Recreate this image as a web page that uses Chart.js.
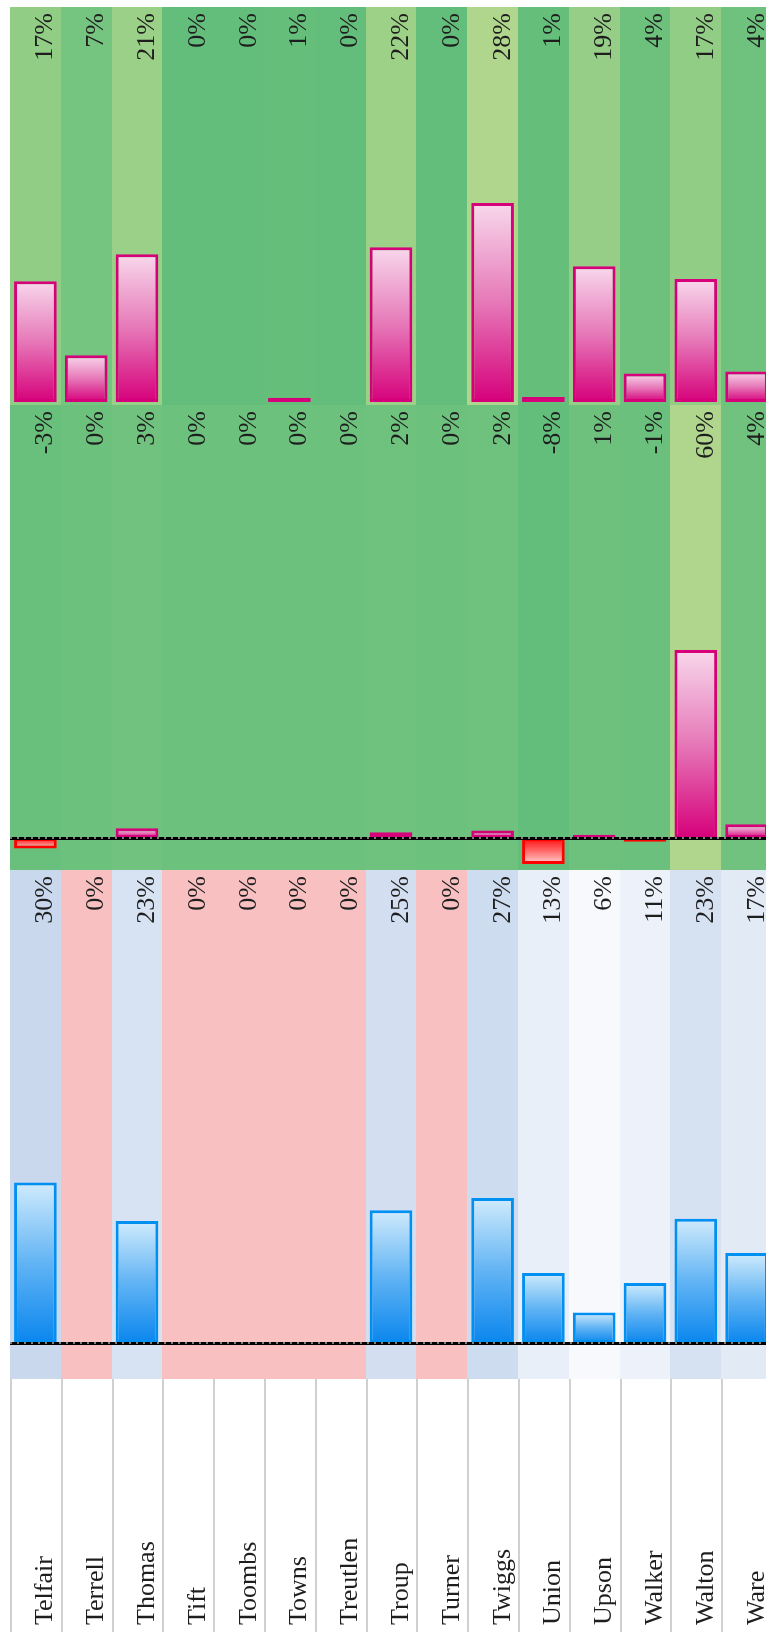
<!DOCTYPE html>
<html>
<head>
<meta charset="utf-8">
<script src="https://cdn.jsdelivr.net/npm/chart.js@4.4.1/dist/chart.umd.min.js"></script>
<style>
html,body{margin:0;padding:0;background:#fff;overflow:hidden;width:766px;height:1632px;}
#wrap{position:absolute;left:0;top:0;width:780px;height:1632px;}
</style>
</head>
<body>
<div id="wrap"><canvas id="c"></canvas></div>
<script>
// ---- data ----
const counties = ['Telfair','Terrell','Thomas','Tift','Toombs','Towns','Treutlen','Troup','Turner','Twiggs','Union','Upson','Walker','Walton','Ware'];
const topValues    = [17.0, 6.6, 20.8, 0, 0, 0.6, 0, 21.8, 0, 28.0, 0.7, 19.1, 4.0, 17.3, 4.3];
const middleValues = [-3.4, 0, 3.1, 0, 0, 0, 0, 1.8, 0, 2.4, -8.3, 1.0, -1.2, 60.0, 4.4];
const bottomValues = [30.0, 0, 22.8, 0, 0, 0, 0, 24.8, 0, 27.1, 13.1, 5.7, 11.2, 23.2, 16.8];
const topRange    = [-0.42, 55.6];
const middleRange = [-10.24, 138.2];
const bottomRange = [-6.73, 88.4];

// ---- styles ----
const FONT = "'Liberation Serif', 'Times New Roman', serif";
function mix(a, b, t) {
  t = Math.max(0, Math.min(1, t));
  return 'rgb(' + a.map((c, i) => Math.round(c + (b[i] - c) * t)).join(',') + ')';
}
const GREEN = [99,190,123], GREEN_HI = [175,214,140];
function greenCells(vals) {
  const lo = Math.min(...vals), hi = Math.max(...vals);
  return vals.map(v => mix(GREEN, GREEN_HI, (v - lo) / (hi - lo)));
}
const WHITE = [252,252,255], BLUE = [90,138,198], PINK_CELL = 'rgb(248,192,193)';
function blueCells(vals) {
  return vals.map(v => v <= 0 ? PINK_CELL : mix(WHITE, BLUE, (v - 3.14) / 85.3));
}
const PINK_STOPS = ['#d6007a', '#e678b8', '#f8d8ec'];
const BLUE_STOPS = ['#0a86ee', '#62b4f4', '#d0ebfc'];
const RED_STOPS  = ['#ff0a0a', '#ff6a6a', '#ffd0d0'];

function barGradient(context, stops) {
  if (context.type !== 'data') return stops[1];
  const chart = context.chart;
  const ys = chart.scales[context.dataset.yAxisID];
  if (!ys || ys.top === undefined) return stops[1];
  const base = ys.getPixelForValue(0);
  const tip = ys.getPixelForValue(context.raw);
  if (!isFinite(base) || !isFinite(tip) || Math.abs(base - tip) < 0.5) return stops[0];
  const g = chart.ctx.createLinearGradient(0, base, 0, tip);
  g.addColorStop(0, stops[0]);
  g.addColorStop(0.5, stops[1]);
  g.addColorStop(1, stops[2]);
  return g;
}

const panels = [
  { axis: 'yTop', values: topValues, cells: greenCells(topValues), baseline: false },
  { axis: 'yMid', values: middleValues, cells: greenCells(middleValues), baseline: true },
  { axis: 'yBot', values: bottomValues, cells: blueCells(bottomValues), baseline: true }
];

const panelPlugin = {
  id: 'panels',
  beforeDatasetsDraw(chart) {
    const ctx = chart.ctx, xs = chart.scales.x;
    const colW = (xs.right - xs.left) / counties.length;
    ctx.save();
    panels.forEach(p => {
      const ys = chart.scales[p.axis];
      const y0 = Math.round(ys.top), y1 = Math.round(ys.bottom);
      p.cells.forEach((c, i) => {
        const cx = xs.getPixelForValue(i);
        const x0 = Math.round(cx - colW / 2), x1 = Math.round(cx + colW / 2);
        ctx.fillStyle = c;
        ctx.fillRect(x0, y0, x1 - x0, y1 - y0);
      });
    });
    // separators in label area
    ctx.strokeStyle = '#d0d0d0';
    ctx.lineWidth = 2;
    for (let i = 0; i <= counties.length; i++) {
      const x = Math.round(xs.left + i * colW) + 1;
      ctx.beginPath();
      ctx.moveTo(x, chart.chartArea.bottom);
      ctx.lineTo(x, chart.height);
      ctx.stroke();
    }
    ctx.restore();
  },
  afterDatasetsDraw(chart) {
    const ctx = chart.ctx, xs = chart.scales.x;
    ctx.save();
    // dashed zero lines
    panels.forEach(p => {
      if (!p.baseline) return;
      const ys = chart.scales[p.axis];
      const y = Math.round(ys.getPixelForValue(0)) + 0.5;
      ctx.setLineDash([]);
      ctx.strokeStyle = '#000';
      ctx.lineWidth = 3;
      ctx.beginPath(); ctx.moveTo(xs.left, y); ctx.lineTo(xs.right, y); ctx.stroke();
      ctx.setLineDash([2, 5]);
      ctx.strokeStyle = '#fff';
      ctx.lineWidth = 1;
      ctx.beginPath(); ctx.moveTo(xs.left, y - 0.5); ctx.lineTo(xs.right, y - 0.5); ctx.stroke();
    });
    ctx.setLineDash([]);
    // value labels
    ctx.fillStyle = '#1e1e1e';
    ctx.font = '26px ' + FONT;
    ctx.textBaseline = 'alphabetic';
    panels.forEach(p => {
      const ys = chart.scales[p.axis];
      p.values.forEach((v, i) => {
        const cx = xs.getPixelForValue(i);
        ctx.save();
        ctx.translate(cx + 17, ys.top + 6);
        ctx.rotate(-Math.PI / 2);
        ctx.textAlign = 'right';
        ctx.fillText(Math.round(v) + '%', 0, 0);
        ctx.restore();
      });
    });
    // category labels
    counties.forEach((name, i) => {
      const cx = xs.getPixelForValue(i);
      ctx.save();
      ctx.translate(cx + 17, chart.height - 7);
      ctx.rotate(-Math.PI / 2);
      ctx.textAlign = 'left';
      ctx.fillText(name, 0, 0);
      ctx.restore();
    });
    ctx.restore();
  }
};

const common = { borderWidth: 3, borderSkipped: false, barPercentage: 0.84, categoryPercentage: 1, grouped: false };

new Chart(document.getElementById('c'), {
  type: 'bar',
  data: {
    labels: counties,
    datasets: [
      Object.assign({ data: topValues, yAxisID: 'yTop',
        backgroundColor: c => barGradient(c, PINK_STOPS), borderColor: '#d6007a' }, common),
      Object.assign({ data: middleValues, yAxisID: 'yMid',
        backgroundColor: c => barGradient(c, (c.raw < 0) ? RED_STOPS : PINK_STOPS),
        borderColor: c => (c.raw < 0) ? '#ff0000' : '#d6007a' }, common),
      Object.assign({ data: bottomValues, yAxisID: 'yBot',
        backgroundColor: c => barGradient(c, BLUE_STOPS), borderColor: '#0090f2' }, common)
    ]
  },
  options: {
    responsive: true,
    maintainAspectRatio: false,
    animation: false,
    devicePixelRatio: 1,
    layout: { padding: { left: 10, right: 8, top: 7, bottom: 253 } },
    plugins: { legend: { display: false }, tooltip: { enabled: false } },
    scales: {
      x: { type: 'category', display: false, offset: true, grid: { display: false } },
      yTop: { type: 'linear', position: 'left', stack: 'panels', stackWeight: 398, weight: 3,
        min: topRange[0], max: topRange[1], display: false },
      yMid: { type: 'linear', position: 'left', stack: 'panels', stackWeight: 465, weight: 2,
        min: middleRange[0], max: middleRange[1], display: false },
      yBot: { type: 'linear', position: 'left', stack: 'panels', stackWeight: 509, weight: 1,
        min: bottomRange[0], max: bottomRange[1], display: false }
    }
  },
  plugins: [panelPlugin]
});
</script>
</body>
</html>
